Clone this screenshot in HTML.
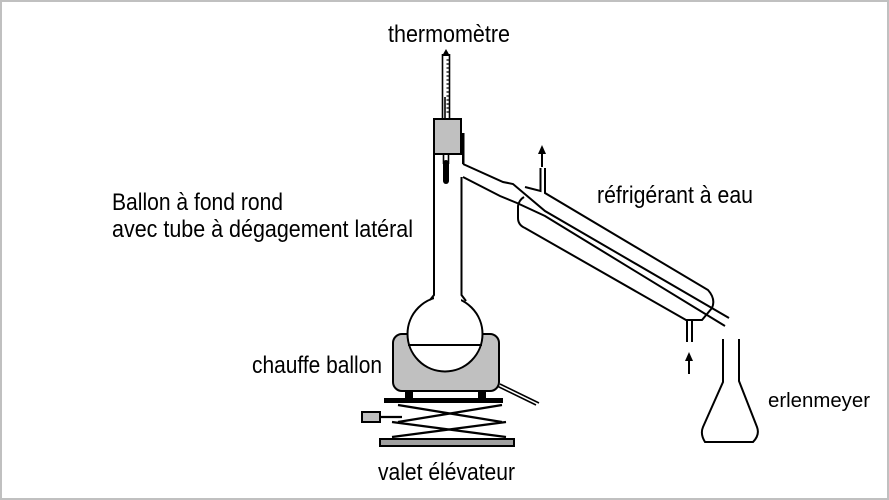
<!DOCTYPE html>
<html>
<head>
<meta charset="utf-8">
<style>
  html,body{margin:0;padding:0;background:#fff;}
  body{width:889px;height:500px;overflow:hidden;}
  svg{display:block;}
  text{font-family:"Liberation Sans", Arial, sans-serif;fill:#000;}
</style>
</head>
<body>
<svg width="889" height="500" viewBox="0 0 889 500" xmlns="http://www.w3.org/2000/svg">
  <!-- frame -->
  <rect x="1" y="1" width="887" height="498" fill="#fff" stroke="#c0c0c0" stroke-width="2"/>

  <!-- labels -->
  <text x="388" y="42" font-size="24" textLength="122" lengthAdjust="spacingAndGlyphs">thermomètre</text>
  <text x="112" y="210" font-size="24" textLength="171" lengthAdjust="spacingAndGlyphs">Ballon à fond rond</text>
  <text x="112" y="237" font-size="24" textLength="301" lengthAdjust="spacingAndGlyphs">avec tube à dégagement latéral</text>
  <text x="252" y="373" font-size="24" textLength="130" lengthAdjust="spacingAndGlyphs">chauffe ballon</text>
  <text x="378" y="480" font-size="24" textLength="137" lengthAdjust="spacingAndGlyphs">valet élévateur</text>
  <text x="597" y="203" font-size="24" textLength="156" lengthAdjust="spacingAndGlyphs">réfrigérant à eau</text>
  <text x="768" y="407" font-size="20" textLength="102" lengthAdjust="spacingAndGlyphs">erlenmeyer</text>

  <!-- heating mantle -->
  <rect x="393" y="334" width="106" height="57" rx="9" ry="9" fill="#c0c0c0" stroke="#000" stroke-width="2"/>
  <!-- mantle feet and lab-jack top plate -->
  <rect x="405" y="390" width="8" height="9" fill="#000"/>
  <rect x="478" y="390" width="8" height="9" fill="#000"/>
  <rect x="384" y="398" width="119" height="5" fill="#000"/>
  <!-- cord -->
  <path d="M497,386 L536,405 M500,384 L539,403" fill="none" stroke="#000" stroke-width="1.6"/>

  <!-- scissor mechanism -->
  <g fill="none" stroke="#000" stroke-width="2.2">
    <path d="M398,405 L502,422"/>
    <path d="M398,422 L502,405"/>
    <path d="M392,437 L506,422"/>
    <path d="M392,422 L506,437"/>
    <path d="M380,417 L402,417"/>
  </g>
  <!-- knob -->
  <rect x="362" y="412" width="18" height="10" fill="#c0c0c0" stroke="#000" stroke-width="2"/>
  <!-- base -->
  <rect x="380" y="439" width="134" height="7" fill="#a0a0a0" stroke="#000" stroke-width="2"/>

  <!-- round-bottom flask -->
  <circle cx="445" cy="334" r="37.5" fill="#fff" stroke="#000" stroke-width="2"/>
  <rect x="434" y="150" width="27" height="152" fill="#fff"/>
  <g fill="none" stroke="#000" stroke-width="2">
    <path d="M434,155 V295 L430,300"/>
    <path d="M461.5,177 V295 L466,301"/>
    <path d="M408,345 H482"/>
  </g>

  <!-- side arm + inner condenser tube -->
  <g fill="none" stroke="#000" stroke-width="2">
    <path d="M463,164 L503,182 L513,184 L545,211 L729,318"/>
    <path d="M463,177 L500,196 L517,203 L545,216 L725,326"/>
  </g>

  <!-- condenser jacket -->
  <g fill="none" stroke="#000" stroke-width="2">
    <path d="M525,187 L540.5,191 V168"/>
    <path d="M545,168 V193 L708,290 Q716,299 712,308 L702,320 H686 L525,228 Q518,225 518,218 L518,206 Q519,200 524,197"/>
    <!-- inlet tube -->
    <path d="M687,321 V342 M692,321 V342"/>
  </g>
  <!-- arrows -->
  <polygon points="542,145 538,154 546,154" fill="#000"/>
  <path d="M542,153 V167" stroke="#000" stroke-width="2"/>
  <polygon points="689,352 685,361 693,361" fill="#000"/>
  <path d="M689,360 V374" stroke="#000" stroke-width="2"/>

  <!-- erlenmeyer -->
  <path d="M723,339 V382 L703,427 Q700,434 705,442 H753 Q760,435 757,427 L739,381 V339" fill="none" stroke="#000" stroke-width="2"/>

  <!-- thermometer -->
  <g fill="none" stroke="#000">
    <path d="M442.5,54 V119 M449.5,54 V119" stroke-width="1.6"/>
    <path d="M445,97 V119" stroke-width="1.6"/>
    <path d="M446.5,60 H449 M446.5,64 H449 M446.5,68 H449 M446.5,72 H449 M446.5,76 H449 M446.5,80 H449 M446.5,84 H449 M446.5,88 H449 M446.5,92 H449 M446.5,96 H449 M446.5,100 H449 M446.5,104 H449 M446.5,108 H449 M446.5,112 H449" stroke-width="1.2"/>
  </g>
  <polygon points="446,49 442,56 450,56" fill="#000"/>
  <!-- thermometer below stopper -->
  <path d="M443.5,154 V164 M448.5,154 V164" stroke="#000" stroke-width="1.6"/>
  <rect x="443" y="160" width="6" height="24" rx="3" fill="#000"/>

  <!-- stopper -->
  <rect x="434" y="119" width="27" height="35" fill="#c0c0c0" stroke="#000" stroke-width="2"/>
  <rect x="462" y="133" width="2.5" height="31" fill="#000"/>
</svg>
</body>
</html>
